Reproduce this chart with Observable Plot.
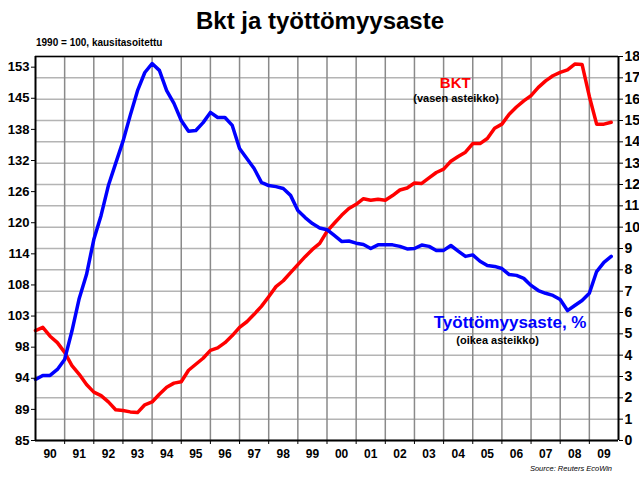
<!DOCTYPE html>
<html><head><meta charset="utf-8">
<script src="https://cdn.jsdelivr.net/npm/d3@7"></script>
<script src="https://cdn.jsdelivr.net/npm/@observablehq/plot@0.6"></script>
<style>body{margin:0;background:#fff} svg{display:block}</style>
</head><body><div id="chart"></div>
<script>
// ---- data ----
const years = [1990,1991,1992,1993,1994,1995,1996,1997,1998,1999,2000,2001,2002,2003,2004,2005,2006,2007,2008,2009,2010];
const yearLabels = ["90","91","92","93","94","95","96","97","98","99","00","01","02","03","04","05","06","07","08","09"];
const quarterStart = 1990;           // first quarter shown
const gdp = [ // BKT, 1990 = 100, quarterly (left, log axis)
  101.0,101.5,100.1,99.1,
  97.6,95.6,94.3,92.8,
  91.7,91.2,90.3,89.2,
  89.1,88.9,88.8,89.9,
  90.3,91.4,92.4,93.0,
  93.2,94.9,95.8,96.7,
  97.9,98.3,99.1,100.2,
  101.5,102.4,103.6,104.9,
  106.5,108.2,109.2,110.6,
  112.0,113.4,114.7,115.8,
  118.0,119.5,121.0,122.3,
  123.1,124.2,123.9,124.1,
  123.9,124.8,125.9,126.3,
  127.3,127.2,128.3,129.4,
  130.1,131.7,132.7,133.6,
  135.4,135.4,136.5,138.7,
  139.6,141.8,143.4,144.8,
  146.0,147.9,149.4,150.6,
  151.4,152.0,153.4,153.3,
  145.8,139.6,139.6,140.0
];
const unemployment = [ // Työttömyysaste %, quarterly (right axis)
  2.86,3.05,3.05,3.33,
  3.80,5.13,6.66,7.78,
  9.42,10.55,11.95,12.99,
  14.02,15.24,16.4,17.25,
  17.67,17.35,16.4,15.8,
  15.0,14.5,14.53,14.9,
  15.38,15.14,15.14,14.77,
  13.69,13.22,12.75,12.1,
  11.95,11.9,11.81,11.49,
  10.78,10.45,10.17,9.96,
  9.88,9.61,9.33,9.35,
  9.25,9.19,9.0,9.17,
  9.17,9.17,9.1,8.98,
  9.0,9.16,9.1,8.91,
  8.91,9.14,8.88,8.63,
  8.7,8.4,8.2,8.16,
  8.06,7.78,7.74,7.6,
  7.27,7.03,6.9,6.8,
  6.61,6.09,6.33,6.56,
  6.9,7.92,8.35,8.63
];
const leftTickLabels = [85,89,94,98,103,108,114,120,126,132,138,145,153];
const rightTicks = [0,1,2,3,4,5,6,7,8,9,10,11,12,13,14,15,16,17,18];

// ---- dual-axis mapping: left axis is logarithmic, 5% per step ----
const leftBase = 85, leftStep = 1.05, rightPerLeftStep = 17.5 / 12;
const leftToRight = v => Math.log(v / leftBase) / Math.log(leftStep) * rightPerLeftStep;
const leftTickPos = leftTickLabels.map((d, i) => i * rightPerLeftStep);
const leftLabelMap = new Map(leftTickPos.map((p, i) => [p, String(leftTickLabels[i])]));
const yearCenters = yearLabels.map((d, i) => years[i] + 0.5);
const yearLabelMap = new Map(yearCenters.map((c, i) => [c, yearLabels[i]]));

const gdpData = gdp.map((v, i) => ({t: quarterStart + i / 4, v}));
const unData = unemployment.map((u, i) => ({t: quarterStart + i / 4, u}));

const font = "'Liberation Sans', Arial, sans-serif";
const chart = Plot.plot({
  width: 639, height: 481,
  marginLeft: 35, marginRight: 21, marginTop: 56, marginBottom: 41,
  x: {domain: [1990, 2010], label: null},
  y: {domain: [0, 18], label: null},
  style: {fontFamily: font, background: "#fff", color: "#000", overflow: "visible"},
  marks: [
    Plot.gridY(rightTicks, {stroke: "#b4b4b4", strokeOpacity: 1, strokeWidth: 1.5}),
    Plot.gridX(years.slice(1, -1), {stroke: "#8a8a8a", strokeOpacity: 1, strokeWidth: 1.5}),
    Plot.line(gdpData, {x: "t", y: d => leftToRight(d.v), stroke: "#ff0000", strokeWidth: 3.5, strokeLinejoin: "round"}),
    Plot.line(unData, {x: "t", y: "u", stroke: "#0000ff", strokeWidth: 3.5, strokeLinejoin: "round"}),
    Plot.ruleY([18], {stroke: "#000", strokeWidth: 1.5}),
    Plot.ruleY([0], {stroke: "#000", strokeWidth: 2}),
    Plot.ruleX([1990], {stroke: "#000", strokeWidth: 2}),
    Plot.ruleX([2010], {stroke: "#000", strokeWidth: 2}),
    Plot.axisY(leftTickPos, {anchor: "left", tickSize: 4, tickPadding: 2, fontSize: 13, fontWeight: "bold",
      tickFormat: d => leftLabelMap.get(d), label: null}),
    Plot.axisY(rightTicks, {anchor: "right", tickSize: 4, tickPadding: 2, fontSize: 14, fontWeight: "bold", label: null}),
    Plot.axisX(years.slice(1, -1), {tickSize: 4, tickFormat: () => "", label: null}),
    Plot.axisX(yearCenters, {tickSize: 0, tickPadding: 9, fontSize: 12, fontWeight: "bold",
      tickFormat: d => yearLabelMap.get(d), label: null}),
    Plot.text(["BKT"], {x: 2004.4, y: 16.75, text: d => d, fill: "#ff0000", fontSize: 15, fontWeight: "bold"}),
    Plot.text(["(vasen asteikko)"], {x: 2004.43, y: 16.05, text: d => d, fill: "#000", fontSize: 11, fontWeight: "bold"}),
    Plot.text(["Työttömyysaste, %"], {x: 2006.28, y: 5.55, text: d => d, fill: "#0000ff", fontSize: 17, fontWeight: "bold"}),
    Plot.text(["(oikea asteikko)"], {x: 2005.85, y: 4.7, text: d => d, fill: "#000", fontSize: 11, fontWeight: "bold"})
  ]
});
const svg = d3.select(chart);
svg.append("text").attr("x", 320).attr("y", 29).attr("text-anchor", "middle")
  .attr("font-family", font).attr("font-size", 24).attr("font-weight", "bold").attr("fill", "#000")
  .text("Bkt ja työttömyysaste");
svg.append("text").attr("x", 36).attr("y", 46).attr("text-anchor", "start").attr("font-family", font)
  .attr("font-size", 10).attr("font-weight", "bold").attr("fill", "#000")
  .text("1990 = 100, kausitasoitettu");
svg.append("text").attr("x", 612).attr("y", 471).attr("text-anchor", "end").attr("font-family", font)
  .attr("font-size", 7.5).attr("font-style", "italic").attr("fill", "#000")
  .text("Source: Reuters EcoWin");
document.getElementById("chart").appendChild(chart);
</script>
</body></html>
